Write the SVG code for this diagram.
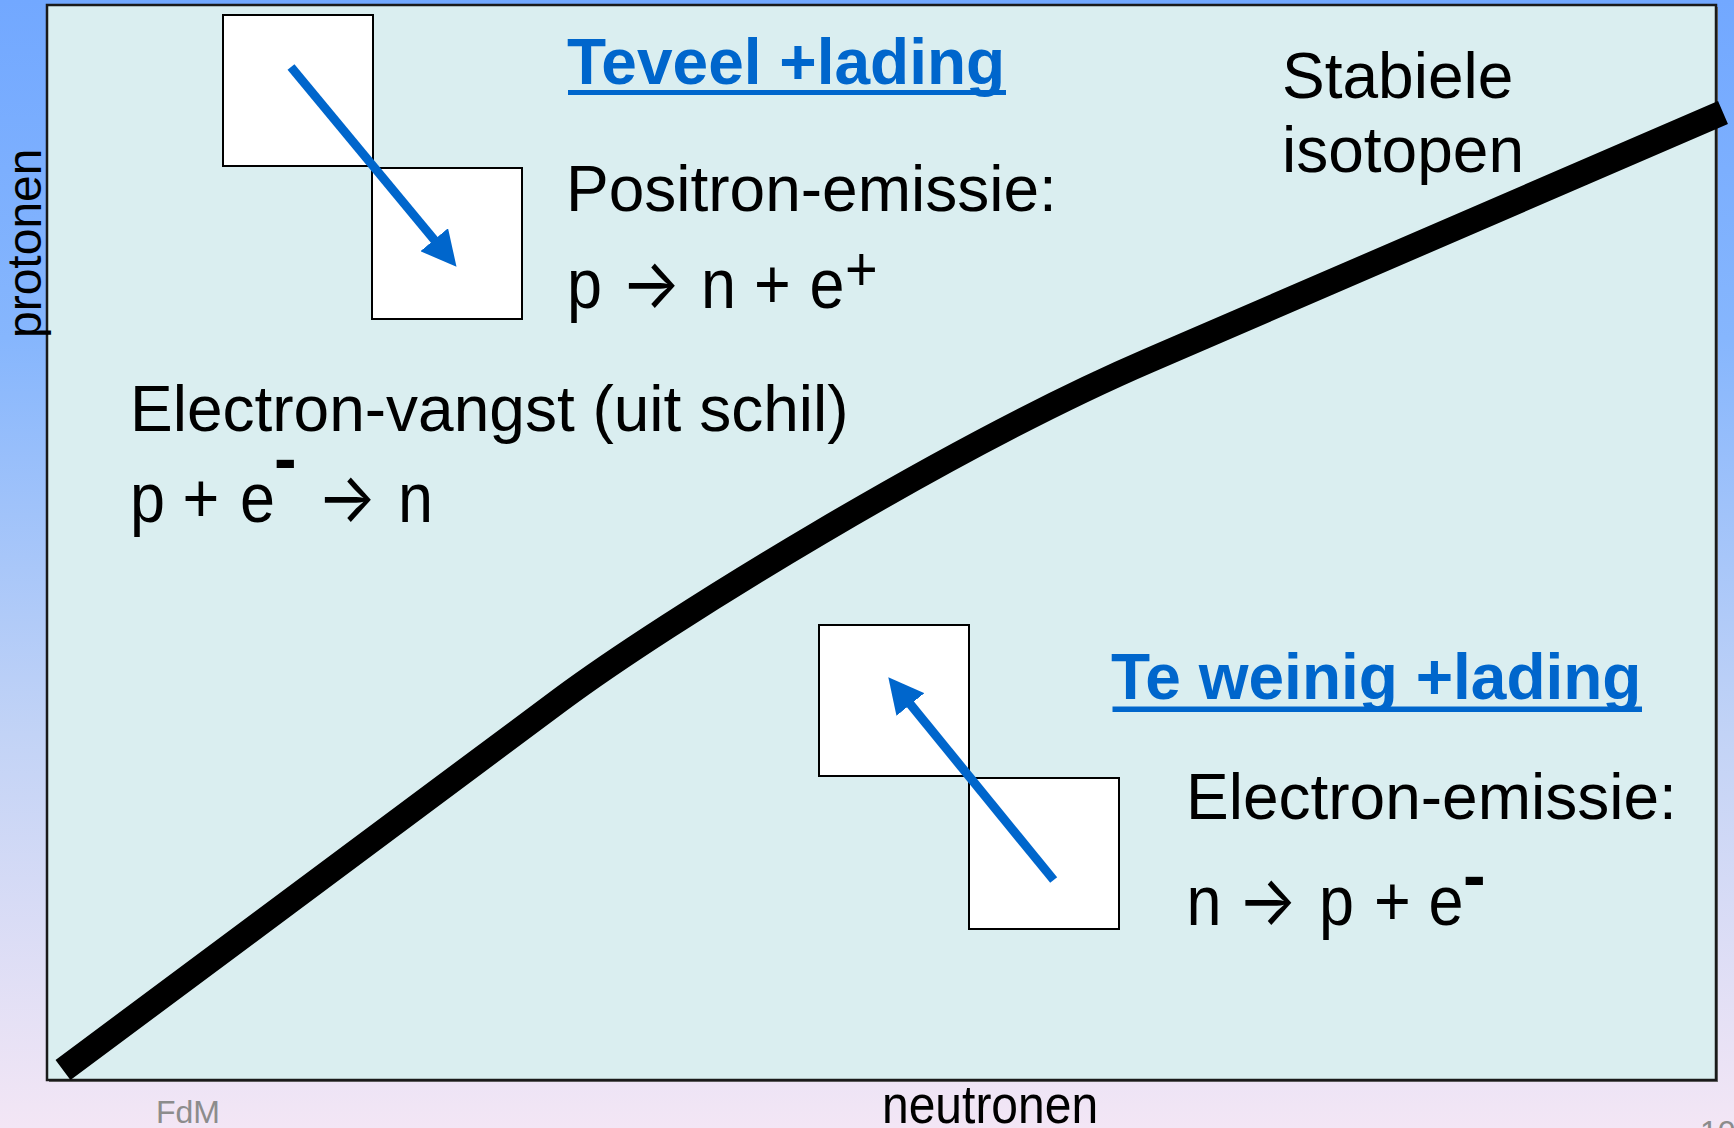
<svg xmlns="http://www.w3.org/2000/svg" width="1734" height="1128" viewBox="0 0 1734 1128">
<defs>
  <linearGradient id="bg" x1="0" y1="0" x2="0" y2="1">
    <stop offset="0" stop-color="#72a8ff"/>
    <stop offset="0.3" stop-color="#86b6fd"/>
    <stop offset="0.65" stop-color="#c2d3f6"/>
    <stop offset="1" stop-color="#f3e6f5"/>
  </linearGradient>
  <marker id="ah" markerUnits="userSpaceOnUse" markerWidth="36" markerHeight="36" viewBox="0 0 36 36" refX="1" refY="18" orient="auto">
    <path d="M0,0 L35,18 L0,36 z" fill="#0066cc"/>
  </marker>
</defs>
<style>
  text { font-family: "Liberation Sans", Arial, sans-serif; fill: #000; }
  .title { font-weight: bold; fill: #0066cc; font-size: 64px; }
  .body { font-size: 64px; }
  .eq { font-size: 63px; }
  .arr { font-family: Inter, "Liberation Sans", sans-serif; }
  .axis { font-size: 48px; }
  .foot { font-size: 32px; fill: #8c8c8c; }
  .sup { font-weight: bold; font-size: 68px; }
  .box { fill: #fff; stroke: #000; stroke-width: 2; }
  .arrow { stroke: #0066cc; stroke-width: 9; fill: none; marker-end: url(#ah); }
  .ul { fill: #0066cc; }
</style>

<rect x="0" y="0" width="1734" height="1128" fill="url(#bg)"/>

<g id="panel">
  <rect x="49" y="7" width="1669" height="1075" fill="#707070"/>
  <rect x="47" y="5" width="1669" height="1075" fill="#daeef0" stroke="#1a1a1a" stroke-width="2.5"/>
</g>

<g id="box-top-1"><rect class="box" x="223" y="15" width="150" height="151"/></g>
<g id="box-top-2"><rect class="box" x="372" y="168" width="150" height="151"/></g>
<g id="box-bottom-1"><rect class="box" x="819" y="625" width="150" height="151"/></g>
<g id="box-bottom-2"><rect class="box" x="969" y="778" width="150" height="151"/></g>

<g id="connectors">
  <path class="arrow" d="M291,67 L434.8,240.5"/>
  <path class="arrow" d="M1053.7,880 L909.8,703.7"/>
</g>

<g id="stability-line">
  <path d="M63,1070 L560,700 C665,621.8 950,446 1150,360 L1723,112.5" fill="none" stroke="#000" stroke-width="25"/>
</g>

<g id="label-teveel">
  <text class="title" x="567" y="84">Teveel +lading</text>
  <rect class="ul" x="568" y="90" width="438" height="5"/>
</g>

<g id="label-positron">
  <text class="body" x="566" y="211">Positron-emissie:</text>
  <text class="eq" transform="matrix(1 0 0 1.12 0 308)"><tspan x="567" y="0">p</tspan><tspan class="arr" x="621" y="0">→</tspan><tspan x="701" y="0">n</tspan><tspan x="754" y="0">+</tspan><tspan x="809.5" y="0">e</tspan><tspan x="845" y="-15" font-size="56">+</tspan></text>
</g>

<g id="label-stabiele">
  <text class="body" x="1282" y="98" font-size="65">Stabiele</text>
  <text class="body" x="1282" y="172" font-size="65">isotopen</text>
</g>

<g id="label-vangst">
  <text class="body" x="130" y="431">Electron-vangst (uit schil)</text>
  <text class="eq" transform="matrix(1 0 0 1.12 0 522)"><tspan x="130" y="0">p</tspan><tspan x="182.5" y="0">+</tspan><tspan x="240" y="0">e</tspan><tspan class="arr" x="317" y="0">→</tspan><tspan x="398" y="0">n</tspan></text>
  <text class="sup" x="274" y="482">-</text>
</g>

<g id="label-teweinig">
  <text class="title" x="1111" y="699">Te weinig +lading</text>
  <rect class="ul" x="1112.5" y="706.5" width="529.5" height="5.5"/>
</g>

<g id="label-electron-emissie">
  <text class="body" x="1186" y="818.5" font-size="65">Electron-emissie:</text>
  <text class="eq" transform="matrix(1 0 0 1.12 0 925)"><tspan x="1186.5" y="0">n</tspan><tspan class="arr" x="1237.5" y="0">→</tspan><tspan x="1319" y="0">p</tspan><tspan x="1374" y="0">+</tspan><tspan x="1428.5" y="0">e</tspan></text>
  <text class="sup" x="1463" y="899">-</text>
</g>

<g id="axis-labels">
  <text class="axis" transform="translate(41,338) rotate(-90)">protonen</text>
  <text class="axis" transform="matrix(1 0 0 1.1 882 1123)">neutronen</text>
</g>

<g id="footer">
  <text class="foot" x="156" y="1123">FdM</text>
  <text class="foot" x="1700" y="1143">10</text>
</g>
</svg>
